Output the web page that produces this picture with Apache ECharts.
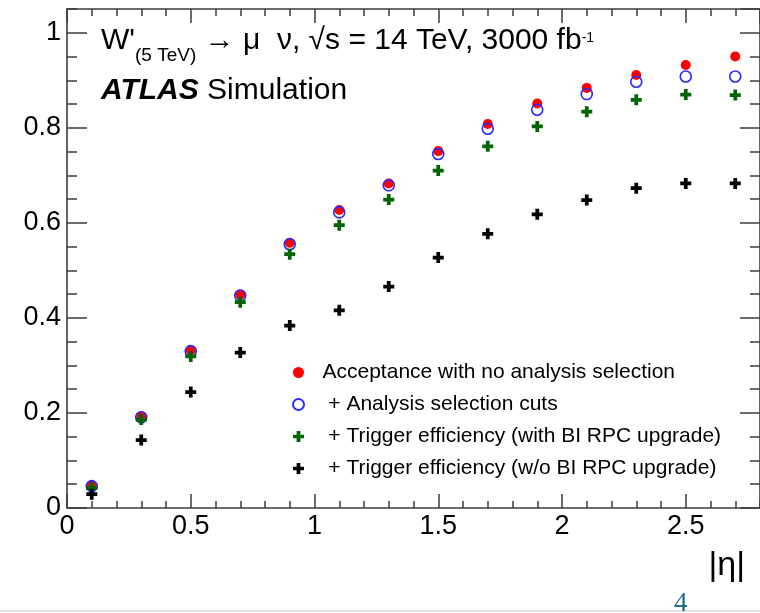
<!DOCTYPE html>
<html>
<head>
<meta charset="utf-8">
<script src="https://cdn.jsdelivr.net/npm/echarts@6/dist/echarts.min.js"></script>
<style>
  html, body { margin: 0; padding: 0; background: #fff; }
  #chart { width: 760px; height: 613px; }
</style>
</head>
<body>
<div id="chart"></div>
<script>
// |eta| bin centres
const eta = [0.1, 0.3, 0.5, 0.7, 0.9, 1.1, 1.3, 1.5, 1.7, 1.9, 2.1, 2.3, 2.5, 2.7]

const acceptance = [0.047, 0.193, 0.332, 0.449, 0.558, 0.627, 0.683, 0.751, 0.808, 0.851, 0.884, 0.911, 0.932, 0.950]
const analysisCuts = [0.046, 0.191, 0.330, 0.447, 0.555, 0.622, 0.679, 0.745, 0.798, 0.838, 0.871, 0.897, 0.908, 0.908]
const trigWithBI = [0.042, 0.186, 0.319, 0.433, 0.534, 0.595, 0.649, 0.710, 0.761, 0.803, 0.834, 0.859, 0.870, 0.869]
const trigNoBI = [0.029, 0.143, 0.244, 0.327, 0.384, 0.416, 0.466, 0.527, 0.577, 0.618, 0.648, 0.673, 0.683, 0.683]

const seriesNames = [
  'Acceptance with no analysis selection',
  ' + Analysis selection cuts',
  ' + Trigger efficiency (with BI RPC upgrade)',
  ' + Trigger efficiency (w/o BI RPC upgrade)'
]

const FONT = "'Liberation Sans', Arial, Helvetica, sans-serif"
const FRAME = '#3c3c3c'
const PLUS = 'path://M3.3,0H6.7V3.3H10V6.7H6.7V10H3.3V6.7H0V3.3H3.3Z'

const pts = (vals) => eta.map((x, i) => [x, vals[i]])

const chart = echarts.init(document.getElementById('chart'))

// frame axes: grid 0 carries the major ticks, grid 1 the minor ones
function xAxisDef(gridIndex, position, major) {
  return {
    type: 'value',
    gridIndex,
    position,
    min: 0,
    max: 2.8,
    interval: major ? 0.5 : 0.1,
    axisLine: { show: major, onZero: false, lineStyle: { color: FRAME, width: 1.6 } },
    axisTick: { show: true, inside: true, length: major ? 14 : 7, lineStyle: { color: FRAME, width: 1.5 } },
    axisLabel: {
      show: major && position === 'bottom',
      showMaxLabel: false,
      fontSize: 27,
      fontFamily: FONT,
      color: '#000',
      margin: 5
    },
    splitLine: { show: false }
  }
}

function yAxisDef(gridIndex, position, major) {
  return {
    type: 'value',
    gridIndex,
    position,
    min: 0,
    max: 1.05,
    interval: major ? 0.2 : 0.05,
    axisLine: { show: major, onZero: false, lineStyle: { color: FRAME, width: 1.6 } },
    axisTick: { show: true, inside: true, length: major ? 20 : 10, lineStyle: { color: FRAME, width: 1.5 } },
    axisLabel: {
      show: major && position === 'left',
      showMaxLabel: false,
      fontSize: 27,
      fontFamily: FONT,
      color: '#000',
      margin: 6
    },
    splitLine: { show: false }
  }
}

const xAxes = [
  xAxisDef(0, 'bottom', true),
  xAxisDef(0, 'top', true),
  xAxisDef(1, 'bottom', false),
  xAxisDef(1, 'top', false)
]

const yAxes = [
  yAxisDef(0, 'left', true),
  yAxisDef(0, 'right', true),
  yAxisDef(1, 'left', false),
  yAxisDef(1, 'right', false)
]

const gridBox = { left: 67, right: 0, top: 9, bottom: 105 }

chart.setOption({
  animation: false,
  backgroundColor: '#fff',
  grid: [gridBox, gridBox],
  xAxis: xAxes,
  yAxis: yAxes,
  title: [
    {
      left: 101,
      top: 17,
      padding: 0,
      text: "{m|W'}{sub|(5 TeV)}{m| → μ  ν, √s = 14 TeV, 3000 fb}{sup|-1}",
      textStyle: {
        fontFamily: FONT,
        fontWeight: 'normal',
        rich: {
          m: { fontSize: 30, lineHeight: 48, fontFamily: FONT, fontWeight: 'normal', color: '#000' },
          sub: { fontSize: 19, fontFamily: FONT, fontWeight: 'normal', color: '#000', verticalAlign: 'bottom' },
          sup: { fontSize: 14, fontFamily: FONT, fontWeight: 'normal', color: '#000', verticalAlign: 'top', padding: [14, 0, 0, 0] }
        }
      }
    },
    {
      left: 101,
      top: 76,
      padding: 0,
      text: '{b|ATLAS}{r| Simulation}',
      textStyle: {
        fontFamily: FONT,
        fontWeight: 'normal',
        rich: {
          b: { fontSize: 30, lineHeight: 30, fontFamily: FONT, fontWeight: 'bold', fontStyle: 'italic', color: '#000' },
          r: { fontSize: 30, lineHeight: 30, fontFamily: FONT, fontWeight: 'normal', color: '#000' }
        }
      }
    }
  ],
  legend: {
    orient: 'vertical',
    left: 292,
    top: 362,
    padding: 0,
    itemWidth: 38,
    itemHeight: 11,
    itemGap: 11,
    symbolKeepAspect: true,
    selectedMode: false,
    data: seriesNames,
    textStyle: { fontSize: 21, lineHeight: 21, fontFamily: FONT, color: '#000' }
  },
  graphic: [
    {
      // x axis title, right-aligned under the frame end
      type: 'text',
      right: 15,
      top: 549,
      style: { text: '|η|', fontSize: 34, fontFamily: FONT, fill: '#000' }
    },
    {
      type: 'line',
      shape: { x1: 0, y1: 611, x2: 760, y2: 611 },
      style: { stroke: '#c4c4c4', lineWidth: 1 }
    },
    {
      type: 'text',
      left: 674,
      top: 590,
      style: { text: '4', fontSize: 27, fontFamily: "'Liberation Serif', serif", fill: '#1d6b86' }
    }
  ],
  series: [
    {
      name: seriesNames[0],
      type: 'scatter',
      data: pts(acceptance),
      symbol: 'circle',
      symbolSize: 10,
      itemStyle: { color: '#ff0000', opacity: 1 }
    },
    {
      name: seriesNames[1],
      type: 'scatter',
      data: pts(analysisCuts),
      symbol: 'circle',
      symbolSize: 11,
      itemStyle: { color: 'transparent', borderColor: '#2a2aff', borderWidth: 1.6, opacity: 1 }
    },
    {
      name: seriesNames[2],
      type: 'scatter',
      data: pts(trigWithBI),
      symbol: PLUS,
      symbolSize: 11,
      itemStyle: { color: '#006400', opacity: 1 }
    },
    {
      name: seriesNames[3],
      type: 'scatter',
      data: pts(trigNoBI),
      symbol: PLUS,
      symbolSize: 11,
      itemStyle: { color: '#000000', opacity: 1 }
    }
  ]
})
</script>
</body>
</html>
